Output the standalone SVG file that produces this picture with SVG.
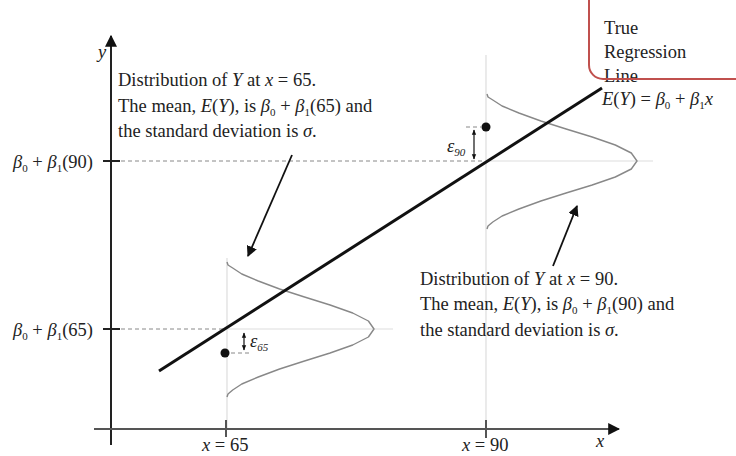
<svg xmlns="http://www.w3.org/2000/svg" width="736" height="456" viewBox="0 0 736 456">
<defs>
<style>
text{font-family:"Liberation Serif","Times New Roman",serif;font-size:18.5px;fill:#222}
.i{font-style:italic}
.s{font-size:11px}
.axis{stroke:#222;stroke-width:2;fill:none}
.xaxis{stroke:#555;stroke-width:2;fill:none}
.guide{stroke:#ddd;stroke-width:1.2;fill:none}
.dash{stroke:#888;stroke-width:1;stroke-dasharray:4 3;fill:none}
.curve{stroke:#888;stroke-width:1.4;fill:none;stroke-linejoin:round}
.arr{stroke:#111;stroke-width:1.8;fill:none}
.darr{stroke:#111;stroke-width:1.2;fill:none}
</style>
<marker id="ah" viewBox="0 0 10 10" refX="9" refY="5" markerWidth="6" markerHeight="6" orient="auto-start-reverse" markerUnits="strokeWidth">
<path d="M0,0 L10,5 L0,10 z" fill="#111"/>
</marker>
<marker id="sh" viewBox="0 0 10 10" refX="9" refY="5" markerWidth="4.5" markerHeight="4.5" orient="auto-start-reverse" markerUnits="strokeWidth">
<path d="M0,1 L10,5 L0,9 z" fill="#111"/>
</marker>
</defs>
<rect width="736" height="456" fill="#fff"/>

<g id="guides">
<line class="guide" x1="227" y1="258" x2="227" y2="429"/>
<line class="guide" x1="227" y1="329" x2="393" y2="329"/>
<line class="guide" x1="486" y1="55" x2="486" y2="429"/>
<line class="guide" x1="486" y1="161" x2="653" y2="161"/>
<line class="dash" x1="121" y1="161" x2="482" y2="161"/>
<line class="dash" x1="121" y1="329" x2="224" y2="329"/>
</g>

<g id="curve65">
<polyline class="curve" points="227,262 228,265 232.7,268 241.8,274 258.3,281 279.6,289 304.5,297 330.1,305 352.7,313 368.4,321 374,329 368.4,337 352.7,345 330.1,353 304.5,361 279.6,369 258.3,377 241.8,384 232.7,390 228,394 227,397"/>
</g>
<g id="curve90">
<polyline class="curve" points="487,94 488,97 492.8,100 502.1,106 518.9,113 540.9,121 566.1,129 592.2,137 615.3,145 631.3,153 637,161 631.3,169 615.3,177 592.2,185 566.1,193 540.9,201 518.9,209 502.1,216 492.8,222 488,226 487,229"/>
</g>

<g id="axes">
<line class="axis" x1="111" y1="445" x2="111" y2="36" marker-end="url(#ah)"/>
<line class="xaxis" x1="94" y1="429" x2="619" y2="429" marker-end="url(#ah)"/>
<line class="axis" x1="103" y1="161" x2="120" y2="161"/>
<line class="axis" x1="103" y1="329" x2="120" y2="329"/>
<line class="xaxis" x1="226" y1="420" x2="226" y2="437"/>
<line class="xaxis" x1="486" y1="420" x2="486" y2="438"/>
<text class="i" x="98" y="58">y</text>
<text class="i" x="596" y="447">x</text>
<text x="202" y="451"><tspan class="i">x</tspan> = 65</text>
<text x="462" y="451"><tspan class="i">x</tspan> = 90</text>
<text x="13" y="168"><tspan class="i">β</tspan><tspan class="s" dy="4">0</tspan><tspan dy="-4"> + </tspan><tspan class="i">β</tspan><tspan class="s" dy="4">1</tspan><tspan dy="-4">(90)</tspan></text>
<text x="13" y="336"><tspan class="i">β</tspan><tspan class="s" dy="4">0</tspan><tspan dy="-4"> + </tspan><tspan class="i">β</tspan><tspan class="s" dy="4">1</tspan><tspan dy="-4">(65)</tspan></text>
</g>

<g id="regression-line">
<line stroke="#111" stroke-width="3" x1="159" y1="371" x2="602" y2="88"/>
</g>

<g id="point65">
<circle cx="225" cy="353" r="4.5" fill="#111"/>
<line class="dash" x1="231" y1="353" x2="250" y2="353"/>
<line class="darr" x1="244" y1="333" x2="244" y2="350" marker-start="url(#sh)" marker-end="url(#sh)"/>
<text class="i" x="250" y="347">ε<tspan class="s" dy="4">65</tspan></text>
</g>

<g id="point90">
<circle cx="486" cy="127" r="4.5" fill="#111"/>
<line class="dash" x1="466" y1="127" x2="481" y2="127"/>
<line class="darr" x1="474" y1="130" x2="474" y2="159" marker-start="url(#sh)" marker-end="url(#sh)"/>
<text class="i" x="447" y="152">ε<tspan class="s" dy="4">90</tspan></text>
</g>

<g id="label65">
<text x="118" y="86">Distribution of <tspan class="i">Y</tspan> at <tspan class="i">x</tspan> = 65.</text>
<text x="118" y="112">The mean, <tspan class="i">E</tspan>(<tspan class="i">Y</tspan>), is <tspan class="i">β</tspan><tspan class="s" dy="4">0</tspan><tspan dy="-4"> + </tspan><tspan class="i">β</tspan><tspan class="s" dy="4">1</tspan><tspan dy="-4">(65) and</tspan></text>
<text x="118" y="137">the standard deviation is <tspan class="i">σ</tspan>.</text>
</g>

<g id="label90">
<text x="420" y="285">Distribution of <tspan class="i">Y</tspan> at <tspan class="i">x</tspan> = 90.</text>
<text x="420" y="310">The mean, <tspan class="i">E</tspan>(<tspan class="i">Y</tspan>), is <tspan class="i">β</tspan><tspan class="s" dy="4">0</tspan><tspan dy="-4"> + </tspan><tspan class="i">β</tspan><tspan class="s" dy="4">1</tspan><tspan dy="-4">(90) and</tspan></text>
<text x="420" y="336">the standard deviation is <tspan class="i">σ</tspan>.</text>
</g>

<g id="connectors">
<line class="arr" x1="292" y1="155" x2="248" y2="256" marker-end="url(#ah)"/>
<line class="arr" x1="553" y1="266" x2="577" y2="206" marker-end="url(#ah)"/>
</g>

<g id="true-line-label">
<text x="604" y="34">True</text>
<text x="604" y="58">Regression</text>
<text x="604" y="82">Line</text>
<rect x="589" y="-20" width="170" height="99" rx="14" fill="none" stroke="#c0504d" stroke-width="2"/>
<text x="602" y="105"><tspan class="i">E</tspan>(<tspan class="i">Y</tspan>) = <tspan class="i">β</tspan><tspan class="s" dy="4">0</tspan><tspan dy="-4"> + </tspan><tspan class="i">β</tspan><tspan class="s" dy="4">1</tspan><tspan dy="-4" class="i">x</tspan></text>
</g>
</svg>
